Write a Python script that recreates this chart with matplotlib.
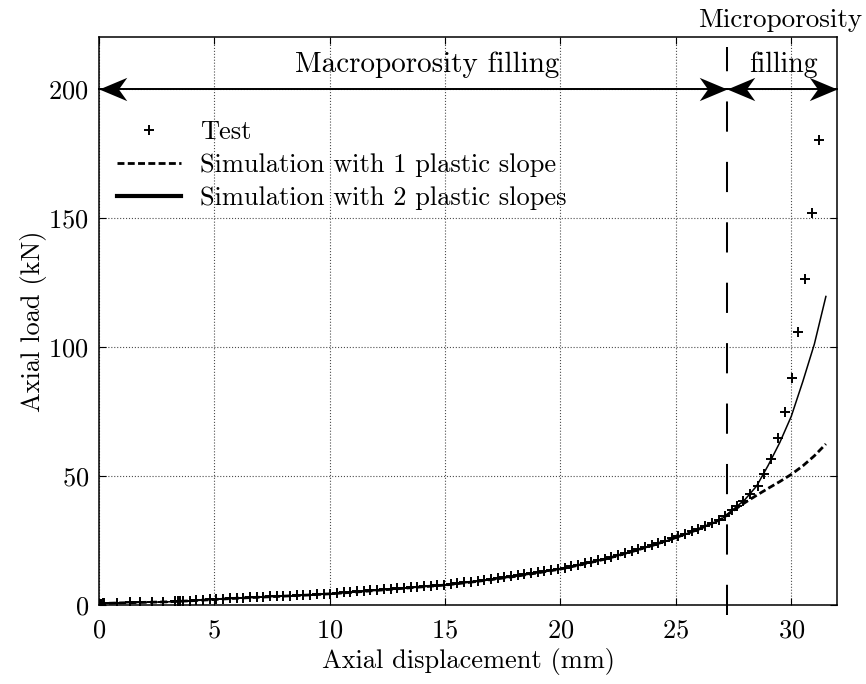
import matplotlib
matplotlib.use("Agg")
from matplotlib import pyplot as plt
from matplotlib.path import Path
from matplotlib.lines import Line2D

plt.rcParams["font.family"] = ["cmr10", "DejaVu Serif"]
plt.rcParams["axes.formatter.use_mathtext"] = True

# test points (mm, kN)
test_x = [0.0, 0.04, 0.08, 0.12, 0.18, 0.25, 0.78, 1.35, 1.79, 2.29, 2.80, 3.30, 3.42, 3.52,
          3.65, 3.94, 4.23, 4.52, 4.81, 5.10, 5.39, 5.68, 5.97, 6.26, 6.55, 6.84, 7.13, 7.42,
          7.71, 8.00, 8.29, 8.58, 8.87, 9.16, 9.45, 9.74, 10.03, 10.32, 10.61, 10.90, 11.19,
          11.48, 11.77, 12.06, 12.35, 12.64, 12.93, 13.22, 13.51, 13.80, 14.09, 14.38, 14.67,
          14.96, 15.25, 15.54, 15.83, 16.12, 16.41, 16.70, 16.99, 17.28, 17.57, 17.86, 18.15,
          18.44, 18.73, 19.02, 19.31, 19.60, 19.89, 20.18, 20.47, 20.76, 21.05, 21.34, 21.63,
          21.92, 22.21, 22.50, 22.79, 23.08, 23.37, 23.66, 23.95, 24.24, 24.53, 24.82, 25.11,
          25.40, 25.69, 25.98, 26.27, 26.56, 26.85, 27.14, 27.43, 27.66, 27.91, 28.23, 28.55,
          28.83, 29.12, 29.41, 29.73, 30.02, 30.30, 30.59, 30.89, 31.20]
test_y = [0.0, 0.2, 0.3, 0.4, 0.5, 0.6, 0.8, 0.9, 1.0, 1.1, 1.15, 1.25, 1.3, 1.35,
          1.46, 1.58, 1.72, 1.86, 2.00, 2.15, 2.30, 2.44, 2.59, 2.70, 2.82, 2.94, 3.05, 3.17,
          3.28, 3.40, 3.52, 3.63, 3.75, 3.88, 4.03, 4.17, 4.32, 4.52, 4.73, 4.93, 5.13,
          5.34, 5.54, 5.74, 5.95, 6.15, 6.35, 6.55, 6.76, 6.96, 7.16, 7.37, 7.57,
          7.77, 8.05, 8.34, 8.63, 8.93, 9.25, 9.57, 9.89, 10.24, 10.58, 10.93, 11.31,
          11.72, 12.12, 12.53, 12.97, 13.40, 13.84, 14.34, 14.89, 15.44, 16.01, 16.61, 17.22,
          17.83, 18.53, 19.25, 19.98, 20.72, 21.50, 22.28, 23.07, 23.92, 24.79, 25.66, 26.56,
          27.52, 28.48, 29.43, 30.58, 31.74, 32.90, 34.2, 36.6, 38.2, 40.1, 42.8, 46.0,
          50.6, 56.5, 64.6, 74.8, 87.9, 105.7, 126.1, 151.7, 180.3]

# simulations
sim_x = [0, 0.3, 1, 2, 3, 4, 5, 6, 7, 8, 9, 10, 11, 12, 13, 14, 15, 16, 17, 18, 19, 20,
         21, 22, 23, 24, 25, 26, 27, 27.5, 28, 28.5, 29, 29.5, 30, 30.5, 31, 31.5]
sim1_y = [0, 0.5, 0.7, 0.9, 1.1, 1.5, 2.0, 2.5, 2.9, 3.3, 3.7, 4.2, 4.8, 5.5, 6.2, 6.9,
          7.6, 8.6, 9.7, 10.9, 12.3, 13.8, 15.7, 17.8, 20.3, 23.0, 26.0, 29.3, 33.3,
          36.6, 39.6, 42.4, 45.1, 47.7, 50.5, 53.8, 57.7, 62.3]
sim2_y = [0, 0.5, 0.7, 0.9, 1.1, 1.5, 2.0, 2.5, 2.9, 3.3, 3.7, 4.2, 4.8, 5.5, 6.2, 6.9,
          7.6, 8.6, 9.7, 10.9, 12.3, 13.8, 15.7, 17.8, 20.3, 23.0, 26.0, 29.3, 33.3,
          37.0, 40.8, 46.0, 54.0, 62.8, 73.0, 86.5, 101.0, 119.5]

x_limit = 27.2

fig = plt.figure(figsize=(8.66, 6.84), dpi=100)
ax = fig.add_axes([0.114, 0.116, 0.853, 0.8295])

ax.plot(test_x, test_y, linestyle="none", marker="+", ms=7, mew=1.4, color="k")
ax.plot(sim_x, sim1_y, color="k", lw=2.0, linestyle=(0, (2.5, 1.2)))
ax.plot(sim_x, sim2_y, color="k", lw=1.1)

# limit between the two zones
ax.plot([x_limit, x_limit], [-4.06, 216.3], color="k", lw=1.45, dashes=(15, 15),
        clip_on=False)

# double arrows
head_r = Path([(0, 0), (-1, 0.42), (-0.7, 0), (-1, -0.42), (0, 0)],
              [Path.MOVETO, Path.LINETO, Path.LINETO, Path.LINETO, Path.CLOSEPOLY])
head_l = Path([(0, 0), (1, 0.42), (0.7, 0), (1, -0.42), (0, 0)],
              [Path.MOVETO, Path.LINETO, Path.LINETO, Path.LINETO, Path.CLOSEPOLY])
for x0, x1 in [(0, x_limit), (x_limit, 32)]:
    ax.plot([x0, x1], [200, 200], color="k", lw=1.4, clip_on=False)
    ax.plot([x0], [200], marker=head_l, ms=40, color="k", mew=0, clip_on=False)
    ax.plot([x1], [200], marker=head_r, ms=40, color="k", mew=0, clip_on=False)

ax.text(14.22, 209.5, "Macroporosity filling", ha="center", va="center", fontsize=21)
ax.text(29.64, 209.5, "filling", ha="center", va="center", fontsize=20)
ax.text(29.5, 226.5, "Microporosity", ha="center", va="center", fontsize=19.5,
        clip_on=False)

ax.set_xlim(0, 32)
ax.set_ylim(0, 220)
ax.set_xticks([0, 5, 10, 15, 20, 25, 30])
ax.set_yticks([0, 50, 100, 150, 200])
ax.grid(True, linestyle=":", color="0.3", lw=0.8)
ax.tick_params(direction="in", top=True, right=True, length=5, labelsize=19)
ax.tick_params(axis="x", pad=10)
ax.tick_params(axis="y", pad=7)
for s in ax.spines.values():
    s.set_linewidth(1.1)

ax.set_xlabel("Axial displacement (mm)", fontsize=19, labelpad=4)
ax.set_ylabel("Axial load (kN)", fontsize=19, labelpad=1)

handles = [
    Line2D([], [], linestyle="none", marker="+", ms=7, mew=1.4, color="k"),
    Line2D([], [], color="k", lw=2.0, linestyle=(0, (2.5, 1.2))),
    Line2D([], [], color="k", lw=3.0),
]
labels = ["Test", "Simulation with 1 plastic slope", "Simulation with 2 plastic slopes"]
ax.legend(handles, labels, loc="upper left", bbox_to_anchor=(0.0, 0.886), frameon=False,
          fontsize=19, handlelength=2.4, handletextpad=0.75, labelspacing=0.35,
          borderaxespad=0.3)

fig.savefig("out.png", dpi=100)
